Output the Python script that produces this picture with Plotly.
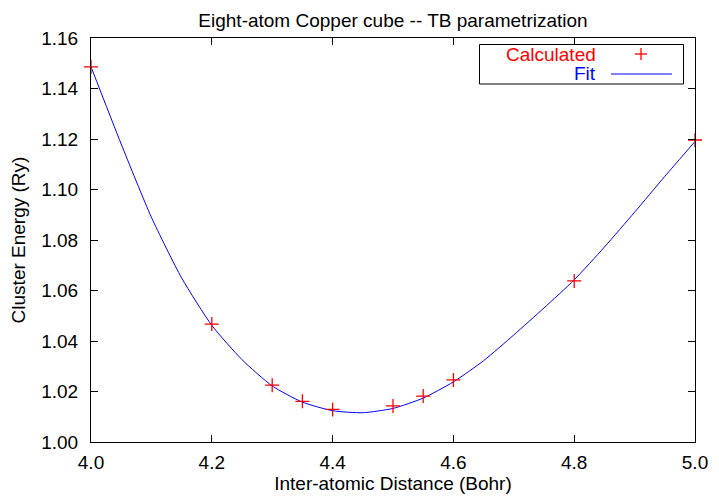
import plotly.graph_objects as go

# Calculated points
calc_x = [4.0, 4.2, 4.3, 4.35, 4.4, 4.5, 4.55, 4.6, 4.8, 5.0]
calc_y = [1.1486, 1.0467, 1.0225, 1.0161, 1.0129, 1.0143, 1.0182, 1.0246, 1.0638, 1.1196]

# Fit curve samples
fit_x = [4.00, 4.05, 4.10, 4.15, 4.20, 4.25, 4.30, 4.35, 4.40, 4.45, 4.50,
         4.55, 4.60, 4.65, 4.70, 4.75, 4.80, 4.85, 4.90, 4.95, 5.00]
fit_y = [1.1486, 1.1180, 1.0890, 1.0650, 1.0462, 1.0326, 1.0222, 1.0158, 1.0124, 1.0116, 1.0133,
         1.0174, 1.0238, 1.0322, 1.0424, 1.0531, 1.0642, 1.0772, 1.0910, 1.1052, 1.1190]

x_ticks = [4.0, 4.2, 4.4, 4.6, 4.8, 5.0]
y_ticks = [1.00, 1.02, 1.04, 1.06, 1.08, 1.10, 1.12, 1.14, 1.16]

title_text = "Eight-atom Copper cube -- TB parametrization"
x_label = "Inter-atomic Distance (Bohr)"
y_label = "Cluster Energy (Ry)"
legend_labels = ["Calculated", "Fit"]

FONT = "Liberation Sans, Arial, sans-serif"
FS = 19

fig = go.Figure()
fig.add_trace(go.Scatter(x=fit_x, y=fit_y, mode="lines", line=dict(color="#0000ff", width=1, shape="spline", smoothing=0.6),
                         name=legend_labels[1], showlegend=False, cliponaxis=True))
fig.add_trace(go.Scatter(x=calc_x, y=calc_y, mode="markers",
                         marker=dict(symbol="cross-thin", size=10, line=dict(color="#ff0000", width=1.3), color="#ff0000"),
                         name=legend_labels[0], showlegend=False, cliponaxis=False))

axis_common = dict(showline=True, linecolor="black", linewidth=1, mirror="ticks", ticks="inside",
                   ticklen=7, tickcolor="black", tickwidth=1, showgrid=False, zeroline=False,
                   tickfont=dict(family=FONT, size=FS, color="black"))

fig.update_xaxes(range=[4.0, 5.0], tickvals=x_ticks, ticktext=[f"{v:.1f}" for v in x_ticks],
                 ticklabelstandoff=3,
                 title=dict(text=x_label, font=dict(family=FONT, size=FS, color="black"), standoff=0),
                 **axis_common)
fig.update_yaxes(range=[1.00, 1.16], tickvals=y_ticks, ticktext=[f"{v:.2f}" for v in y_ticks],
                 ticklabelstandoff=8,
                 title=dict(text=y_label, font=dict(family=FONT, size=FS, color="black"), standoff=10),
                 **axis_common)

# Manual gnuplot-style key
px = lambda p: (p - 91) / 604.0
py = lambda p: (442 - p) / 404.0
shapes = [
    dict(type="rect", xref="paper", yref="paper", x0=px(479.5), x1=px(683.5), y0=py(84), y1=py(44.5),
         line=dict(color="black", width=1), fillcolor="white", layer="above"),
    dict(type="line", xref="paper", yref="paper", x0=px(611), x1=px(672), y0=py(74), y1=py(74),
         line=dict(color="#0000ff", width=1), layer="above"),
    dict(type="line", xref="paper", yref="paper", x0=px(635), x1=px(647), y0=py(54), y1=py(54),
         line=dict(color="#ff0000", width=1.3), layer="above"),
    dict(type="line", xref="paper", yref="paper", x0=px(641), x1=px(641), y0=py(48), y1=py(60),
         line=dict(color="#ff0000", width=1.3), layer="above"),
]
annotations = [
    dict(text=legend_labels[0], xref="paper", yref="paper", x=px(598), y=py(54), xanchor="right", yanchor="middle",
         showarrow=False, font=dict(family=FONT, size=FS, color="#ff0000")),
    dict(text=legend_labels[1], xref="paper", yref="paper", x=px(598), y=py(74), xanchor="right", yanchor="middle",
         showarrow=False, font=dict(family=FONT, size=FS, color="#0000ff")),
]

fig.update_layout(
    width=719, height=503,
    margin=dict(l=91, r=24, t=38, b=61),
    paper_bgcolor="white", plot_bgcolor="white",
    title=dict(text=title_text, x=0.5, xref="paper", xanchor="center", y=1 - 20 / 503, yanchor="middle",
               font=dict(family=FONT, size=FS, color="black")),
    shapes=shapes, annotations=annotations,
    showlegend=False,
)

fig.write_html("out.html", config={"displayModeBar": False},
               post_script="document.body.style.margin='0';document.body.style.overflow='hidden';")
